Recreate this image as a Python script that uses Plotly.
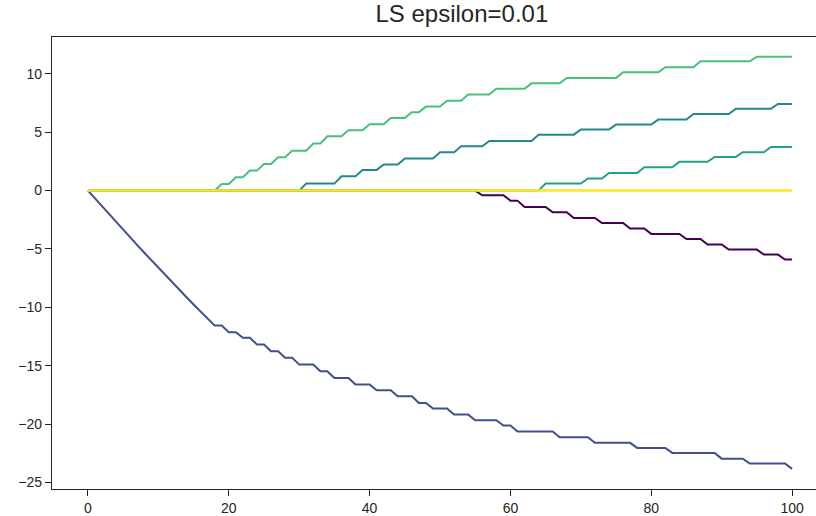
import plotly.graph_objects as go

# Iteration index of the incremental forward-stagewise fit
steps = list(range(101))

# Coefficient paths, one value per iteration
coef_purple = [
    0.00, 0.00, 0.00, 0.00, 0.00, 0.00, 0.00, 0.00, 0.00, 0.00,
    0.00, 0.00, 0.00, 0.00, 0.00, 0.00, 0.00, 0.00, 0.00, 0.00,
    0.00, 0.00, 0.00, 0.00, 0.00, 0.00, 0.00, 0.00, 0.00, 0.00,
    0.00, 0.00, 0.00, 0.00, 0.00, 0.00, 0.00, 0.00, 0.00, 0.00,
    0.00, 0.00, 0.00, 0.00, 0.00, 0.00, 0.00, 0.00, 0.00, 0.00,
    0.00, 0.00, 0.00, 0.00, 0.00, 0.00, -0.40, -0.40, -0.40, -0.40,
    -0.86, -0.86, -1.40, -1.40, -1.40, -1.40, -1.86, -1.86, -1.86, -2.34,
    -2.34, -2.34, -2.34, -2.77, -2.77, -2.77, -2.77, -3.25, -3.25, -3.25,
    -3.71, -3.71, -3.71, -3.71, -3.71, -4.14, -4.14, -4.14, -4.62, -4.62,
    -4.62, -5.05, -5.05, -5.05, -5.05, -5.05, -5.48, -5.48, -5.48, -5.91,
    -5.91,
]

coef_blue = [
    0.00, -0.68, -1.36, -2.03, -2.70, -3.36, -4.02, -4.67, -5.32, -5.97,
    -6.61, -7.25, -7.88, -8.51, -9.13, -9.75, -10.36, -10.97, -11.56, -11.56,
    -12.13, -12.13, -12.61, -12.61, -13.18, -13.18, -13.76, -13.76, -14.32, -14.32,
    -14.90, -14.90, -14.90, -15.47, -15.47, -16.04, -16.04, -16.04, -16.61, -16.61,
    -16.61, -17.10, -17.10, -17.10, -17.61, -17.61, -17.61, -18.18, -18.18, -18.66,
    -18.66, -18.66, -19.18, -19.18, -19.18, -19.66, -19.66, -19.66, -19.66, -20.12,
    -20.12, -20.62, -20.62, -20.62, -20.62, -20.62, -20.62, -21.12, -21.12, -21.12,
    -21.12, -21.12, -21.60, -21.60, -21.60, -21.60, -21.60, -21.60, -22.03, -22.03,
    -22.03, -22.03, -22.03, -22.46, -22.46, -22.46, -22.46, -22.46, -22.46, -22.46,
    -22.95, -22.95, -22.95, -22.95, -23.37, -23.37, -23.37, -23.37, -23.37, -23.37,
    -23.83,
]

coef_teal_mid = [
    0.00, 0.00, 0.00, 0.00, 0.00, 0.00, 0.00, 0.00, 0.00, 0.00,
    0.00, 0.00, 0.00, 0.00, 0.00, 0.00, 0.00, 0.00, 0.00, 0.00,
    0.00, 0.00, 0.00, 0.00, 0.00, 0.00, 0.00, 0.00, 0.00, 0.00,
    0.00, 0.60, 0.60, 0.60, 0.60, 0.60, 1.22, 1.22, 1.22, 1.77,
    1.77, 1.77, 2.23, 2.23, 2.23, 2.74, 2.74, 2.74, 2.74, 2.74,
    3.28, 3.28, 3.28, 3.79, 3.79, 3.79, 3.79, 4.25, 4.25, 4.25,
    4.25, 4.25, 4.25, 4.25, 4.79, 4.79, 4.79, 4.79, 4.79, 4.79,
    5.22, 5.22, 5.22, 5.22, 5.22, 5.65, 5.65, 5.65, 5.65, 5.65,
    5.65, 6.08, 6.08, 6.08, 6.08, 6.08, 6.56, 6.56, 6.56, 6.56,
    6.56, 6.56, 7.00, 7.00, 7.00, 7.00, 7.00, 7.00, 7.42, 7.42,
    7.42,
]

coef_teal_low = [
    0.00, 0.00, 0.00, 0.00, 0.00, 0.00, 0.00, 0.00, 0.00, 0.00,
    0.00, 0.00, 0.00, 0.00, 0.00, 0.00, 0.00, 0.00, 0.00, 0.00,
    0.00, 0.00, 0.00, 0.00, 0.00, 0.00, 0.00, 0.00, 0.00, 0.00,
    0.00, 0.00, 0.00, 0.00, 0.00, 0.00, 0.00, 0.00, 0.00, 0.00,
    0.00, 0.00, 0.00, 0.00, 0.00, 0.00, 0.00, 0.00, 0.00, 0.00,
    0.00, 0.00, 0.00, 0.00, 0.00, 0.00, 0.00, 0.00, 0.00, 0.00,
    0.00, 0.00, 0.00, 0.00, 0.00, 0.60, 0.60, 0.60, 0.60, 0.60,
    0.60, 1.03, 1.03, 1.03, 1.51, 1.51, 1.51, 1.51, 1.51, 2.00,
    2.00, 2.00, 2.00, 2.00, 2.46, 2.46, 2.46, 2.46, 2.46, 2.88,
    2.88, 2.88, 2.88, 3.28, 3.28, 3.28, 3.28, 3.74, 3.74, 3.74,
    3.74,
]

coef_green = [
    0.00, 0.00, 0.00, 0.00, 0.00, 0.00, 0.00, 0.00, 0.00, 0.00,
    0.00, 0.00, 0.00, 0.00, 0.00, 0.00, 0.00, 0.00, 0.00, 0.57,
    0.57, 1.14, 1.14, 1.71, 1.71, 2.28, 2.28, 2.85, 2.85, 3.42,
    3.42, 3.42, 4.03, 4.03, 4.65, 4.65, 4.65, 5.16, 5.16, 5.16,
    5.68, 5.68, 5.68, 6.22, 6.22, 6.22, 6.70, 6.70, 7.19, 7.19,
    7.19, 7.70, 7.70, 7.70, 8.22, 8.22, 8.22, 8.22, 8.72, 8.72,
    8.72, 8.72, 8.72, 9.18, 9.18, 9.18, 9.18, 9.18, 9.65, 9.65,
    9.65, 9.65, 9.65, 9.65, 9.65, 9.65, 10.13, 10.13, 10.13, 10.13,
    10.13, 10.13, 10.56, 10.56, 10.56, 10.56, 10.56, 11.07, 11.07, 11.07,
    11.07, 11.07, 11.07, 11.07, 11.07, 11.46, 11.46, 11.46, 11.46, 11.46,
    11.46,
]

coef_yellow = [
    0.00, 0.00, 0.00, 0.00, 0.00, 0.00, 0.00, 0.00, 0.00, 0.00,
    0.00, 0.00, 0.00, 0.00, 0.00, 0.00, 0.00, 0.00, 0.00, 0.00,
    0.00, 0.00, 0.00, 0.00, 0.00, 0.00, 0.00, 0.00, 0.00, 0.00,
    0.00, 0.00, 0.00, 0.00, 0.00, 0.00, 0.00, 0.00, 0.00, 0.00,
    0.00, 0.00, 0.00, 0.00, 0.00, 0.00, 0.00, 0.00, 0.00, 0.00,
    0.00, 0.00, 0.00, 0.00, 0.00, 0.00, 0.00, 0.00, 0.00, 0.00,
    0.00, 0.00, 0.00, 0.00, 0.00, 0.00, 0.00, 0.00, 0.00, 0.00,
    0.00, 0.00, 0.00, 0.00, 0.00, 0.00, 0.00, 0.00, 0.00, 0.00,
    0.00, 0.00, 0.00, 0.00, 0.00, 0.00, 0.00, 0.00, 0.00, 0.00,
    0.00, 0.00, 0.00, 0.00, 0.00, 0.00, 0.00, 0.00, 0.00, 0.00,
    0.00,
]

# Paths in drawing order with viridis colours; yellow goes last, on top
paths = [
    (coef_purple, "#440154", 2),
    (coef_blue, "#424f8c", 2),
    (coef_teal_mid, "#23898e", 2),
    (coef_teal_low, "#25a088", 2),
    (coef_green, "#48bf7f", 2),
    (coef_yellow, "#fde725", 2.5),
]

x_ticks = [0, 20, 40, 60, 80, 100]
y_ticks = [-25, -20, -15, -10, -5, 0, 5, 10]

ink = "#262626"
font_family = "Liberation Sans, Arial, sans-serif"

fig = go.Figure()
for values, colour, width in paths:
    fig.add_trace(go.Scatter(
        x=steps, y=values, mode="lines",
        line=dict(color=colour, width=width),
        showlegend=False, hoverinfo="skip",
    ))

fig.update_layout(
    width=816, height=516,
    margin=dict(l=52, r=0, t=37, b=27),
    paper_bgcolor="white", plot_bgcolor="white",
    font=dict(family=font_family, size=14, color=ink),
    title=dict(
        text="LS epsilon=0.01",
        x=0.566, xanchor="center", y=0.99, yanchor="top",
        font=dict(family=font_family, size=24, color=ink),
    ),
)

fig.update_xaxes(
    range=[-5.11, 103.4], tickvals=x_ticks,
    showgrid=False, zeroline=False,
    showline=True, linecolor=ink, linewidth=1.25, mirror=True,
    ticks="outside", ticklen=6, tickwidth=1.25, tickcolor=ink,
)
fig.update_yaxes(
    range=[-25.55, 13.15], tickvals=y_ticks,
    showgrid=False, zeroline=False,
    showline=True, linecolor=ink, linewidth=1.25,
    ticks="outside", ticklen=6, tickwidth=1.25, tickcolor=ink,
)

fig.write_html("out.html")
